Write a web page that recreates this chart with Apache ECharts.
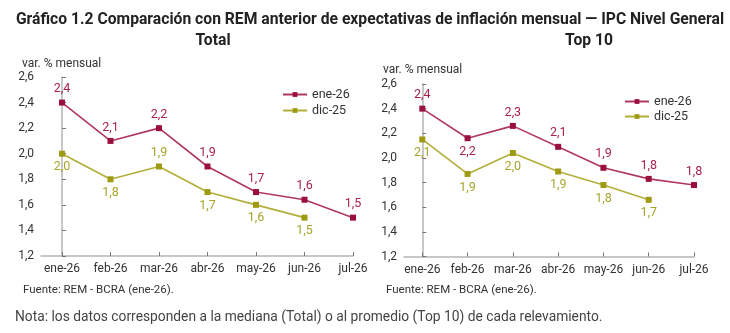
<!DOCTYPE html>
<html><head><meta charset="utf-8">
<script src="https://cdn.jsdelivr.net/npm/echarts@6/dist/echarts.min.js"></script>
<style>html,body{margin:0;padding:0;background:#fff}#c{width:730px;height:333px}</style>
</head><body><div id="c"></div>
<script>
const categories = ['ene-26','feb-26','mar-26','abr-26','may-26','jun-26','jul-26'];
const seriesNames = ['ene-26','dic-25'];
const totalEne26 = [2.40, 2.10, 2.20, 1.90, 1.70, 1.64, 1.50];
const totalDic25 = [2.00, 1.80, 1.90, 1.70, 1.60, 1.50];
const top10Ene26 = [2.40, 2.16, 2.26, 2.09, 1.92, 1.83, 1.78];
const top10Dic25 = [2.15, 1.87, 2.04, 1.89, 1.78, 1.66];
const totalEneBelow = [false, false, false, false, false, false, false];
const totalDicBelow = [true, true, false, true, true, true];
const top10EneBelow = [false, true, false, false, false, false, false];
const top10DicBelow = [true, true, true, true, true, true];

const FONT = 'Roboto';
const C_ENE_LINE = '#B0385F', C_ENE_MK = '#9B0F40', C_ENE_TXT = '#A8224E';
const C_DIC_LINE = '#B2AE3A', C_DIC_MK = '#9E9A12', C_DIC_TXT = '#A8A42A';
const fmt = v => v.toFixed(1).replace('.', ',');
const idx = [0,1,2,3,4,5,6];

function pts(vals, below) {
  return vals.map((v, i) => ({
    value: [i, v],
    label: { position: below[i] ? 'bottom' : 'top' }
  }));
}
function lineSeries(name, vals, below, lc, mc, tc, gi) {
  return {
    type: 'line', name: name, xAxisIndex: gi, yAxisIndex: gi,
    data: pts(vals, below), symbol: 'rect', symbolSize: 6,
    lineStyle: { color: lc, width: 1.6 }, itemStyle: { color: mc },
    label: { show: true, distance: 4, color: tc, fontFamily: FONT, fontSize: 12.5,
      formatter: p => fmt(p.value[1]) },
    emphasis: { disabled: true }, animation: false
  };
}
function xAxis(gi, min) {
  return {
    type: 'value', gridIndex: gi, min: min, max: 6,
    axisLine: { lineStyle: { color: '#b5b5b5', width: 1.5 } },
    axisTick: { inside: true, length: 4, lineStyle: { color: '#777' }, customValues: idx },
    axisLabel: { customValues: idx, formatter: v => categories[Math.round(v)],
      color: '#333', fontFamily: FONT, fontSize: 12, margin: 7 },
    splitLine: { show: false }
  };
}
function yAxis(gi) {
  return {
    type: 'value', gridIndex: gi, min: 1.2, max: 2.6, interval: 0.2,
    axisLine: { show: true, lineStyle: { color: '#b5b5b5', width: 1.5 } },
    axisTick: { show: true, inside: true, length: 4, lineStyle: { color: '#777' } },
    axisLabel: { formatter: v => fmt(v), color: '#333', fontFamily: FONT, fontSize: 12, margin: 7 },
    splitLine: { show: false }
  };
}
const chart = echarts.init(document.getElementById('c'), null, { renderer: 'canvas' });
chart.setOption({
  backgroundColor: '#fff',
  animation: false,
  title: [
    { text: 'Gráfico 1.2 Comparación con REM anterior de expectativas de inflación mensual — IPC Nivel General',
      left: 365, textAlign: 'center', top: 7, textStyle: { fontFamily: FONT, fontWeight: 'bold', fontSize: 15.7, color: '#222' } },
    { text: 'Total', left: 208, textAlign: 'center', top: 28, textStyle: { fontFamily: FONT, fontWeight: 'bold', fontSize: 15.7, color: '#222' } },
    { text: 'Top 10', left: 584, textAlign: 'center', top: 28, textStyle: { fontFamily: FONT, fontWeight: 'bold', fontSize: 15.7, color: '#222' } },
    { text: 'var. % mensual', left: 17, top: 53, textStyle: { fontFamily: FONT, fontWeight: 'normal', fontSize: 12, color: '#333' } },
    { text: 'var. % mensual', left: 378, top: 59, textStyle: { fontFamily: FONT, fontWeight: 'normal', fontSize: 12, color: '#333' } },
    { text: 'Fuente: REM - BCRA (ene-26).', left: 18, top: 279, textStyle: { fontFamily: FONT, fontWeight: 'normal', fontSize: 11.5, color: '#333' } },
    { text: 'Fuente: REM - BCRA (ene-26).', left: 381, top: 279, textStyle: { fontFamily: FONT, fontWeight: 'normal', fontSize: 11.5, color: '#333' } },
    { text: 'Nota: los datos corresponden a la mediana (Total) o al promedio (Top 10) de cada relevamiento.', left: 10, top: 306, textStyle: { fontFamily: FONT, fontWeight: 'normal', fontSize: 13.8, color: '#444' } }
  ],
  legend: [
    { data: seriesNames, orient: 'vertical', left: 277, top: 83, itemWidth: 24, itemHeight: 6, itemGap: 3,
      textStyle: { fontFamily: FONT, fontSize: 12.5, color: '#333' } },
    { data: seriesNames, orient: 'vertical', left: 619, top: 90, itemWidth: 24, itemHeight: 6, itemGap: 2,
      textStyle: { fontFamily: FONT, fontSize: 12.5, color: '#333' } }
  ],
  grid: [
    { left: 41, top: 77, width: 312, height: 179 },
    { left: 404, top: 84, width: 290, height: 172.5 }
  ],
  xAxis: [ xAxis(0, -0.433), xAxis(1, -0.404) ],
  yAxis: [ yAxis(0), yAxis(1) ],
  series: [
    lineSeries(seriesNames[0], totalEne26, totalEneBelow, C_ENE_LINE, C_ENE_MK, C_ENE_TXT, 0),
    lineSeries(seriesNames[1], totalDic25, totalDicBelow, C_DIC_LINE, C_DIC_MK, C_DIC_TXT, 0),
    lineSeries(seriesNames[0], top10Ene26, top10EneBelow, C_ENE_LINE, C_ENE_MK, C_ENE_TXT, 1),
    lineSeries(seriesNames[1], top10Dic25, top10DicBelow, C_DIC_LINE, C_DIC_MK, C_DIC_TXT, 1)
  ]
});
</script></body></html>
